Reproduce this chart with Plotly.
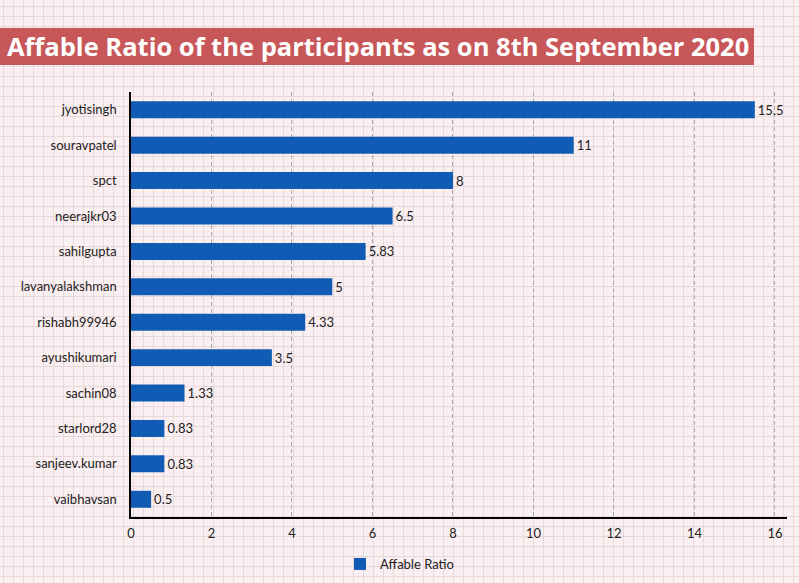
import base64
import plotly.graph_objects as go

participants = ["jyotisingh", "souravpatel", "spct", "neerajkr03", "sahilgupta",
                "lavanyalakshman", "rishabh99946", "ayushikumari", "sachin08",
                "starlord28", "sanjeev.kumar", "vaibhavsan"]
affable_ratio = [15.5, 11, 8, 6.5, 5.83, 5, 4.33, 3.5, 1.33, 0.83, 0.83, 0.5]
x_ticks = [0, 2, 4, 6, 8, 10, 12, 14, 16]
title_text = "Affable Ratio of the participants as on 8th September 2020"
series_name = "Affable Ratio"

W, H = 799, 583
ML, MR, MT, MB = 131, 12, 92, 66
PW, PH = W - ML - MR, H - MT - MB

def px_x(p):
    return (p - ML) / PW

def px_y(p):
    return (H - MB - p) / PH

svg = f'''<svg xmlns="http://www.w3.org/2000/svg" width="{W}" height="{H}">
<defs><pattern id="p" width="10" height="10" patternUnits="userSpaceOnUse" x="3" y="6">
<path d="M0 0.5H10 M0.5 0V10" stroke="#e8d8da" stroke-width="1" fill="none"/></pattern></defs>
<rect width="{W}" height="{H}" fill="#fbf0f1"/>
<rect width="{W}" height="{H}" fill="url(#p)"/></svg>'''
bg_uri = "data:image/svg+xml;base64," + base64.b64encode(svg.encode()).decode()

fig = go.Figure(go.Bar(
    x=affable_ratio, y=participants, orientation="h", name=series_name,
    marker=dict(color="#105cb4", line=dict(width=0)),
    text=affable_ratio, texttemplate="%{x}", textposition="outside",
    textfont=dict(family="Lato", size=13, color="#222222"),
    cliponaxis=False, showlegend=True,
))

fig.update_layout(
    width=W, height=H,
    margin=dict(l=ML, r=MR, t=MT, b=MB, pad=0, autoexpand=False),
    paper_bgcolor="#fbf0f1", plot_bgcolor="rgba(0,0,0,0)",
    font=dict(family="Lato", size=13, color="#222222"),
    bargap=0.52,
    xaxis=dict(range=[0, 16.3], tickvals=x_ticks, showgrid=True,
               gridcolor="#ababab", griddash="4px,3px", gridwidth=1,
               showline=True, linecolor="#000000", linewidth=1.5,
               zeroline=False, ticks="", ticklabelstandoff=4, automargin=False,
               tickfont=dict(size=13, color="#222222")),
    yaxis=dict(categoryorder="array", categoryarray=participants,
               autorange="reversed", showgrid=False, showline=True,
               linecolor="#000000", linewidth=1.5, ticks="", automargin=False,
               ticklabelstandoff=10, tickfont=dict(size=13, color="#222222")),
    legend=dict(orientation="h", xref="container", yref="container",
                x=0.5, xanchor="center", y=(H - 564) / H, yanchor="middle",
                font=dict(size=13, color="#222222"), bgcolor="rgba(0,0,0,0)"),
    images=[dict(source=bg_uri, xref="paper", yref="paper",
                 x=px_x(0), y=px_y(0), sizex=W / PW, sizey=H / PH,
                 xanchor="left", yanchor="top", sizing="stretch", layer="below")],
    shapes=[dict(type="rect", xref="paper", yref="paper",
                 x0=px_x(0), x1=px_x(754), y0=px_y(65), y1=px_y(28),
                 fillcolor="#c75758", line=dict(width=0), layer="above")],
    annotations=[dict(text="<b>" + title_text + "</b>", xref="paper", yref="paper",
                      x=px_x(5), y=px_y(46), xanchor="left", yanchor="middle",
                      showarrow=False,
                      font=dict(family="Open Sans", size=25.5, color="#ffffff"))],
)

fig.write_html("out.html")
